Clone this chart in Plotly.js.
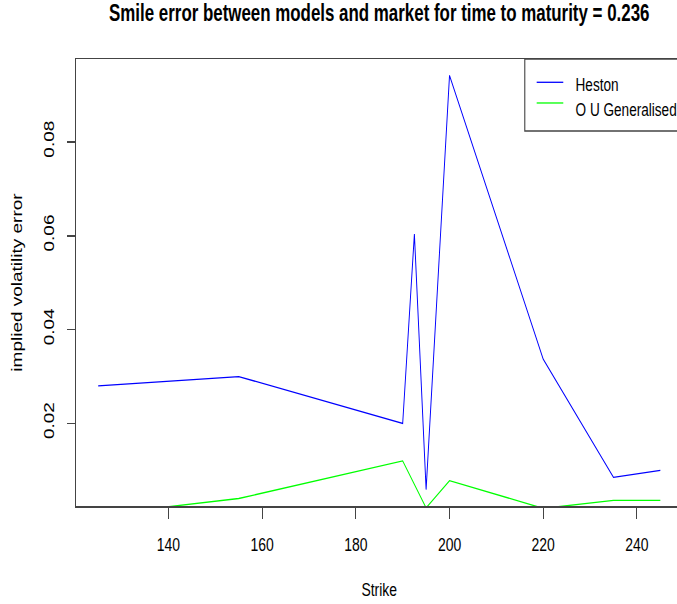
<!DOCTYPE html>
<html>
<head>
<meta charset="utf-8">
<script src="https://cdn.plot.ly/plotly-3.0.1.min.js"></script>
<style>
html, body { margin: 0; padding: 0; width: 677px; height: 604px; overflow: hidden; background: #fff; }
#wrap { width: 940px; height: 604px; transform: scaleX(0.735); transform-origin: 0 0; }
</style>
</head>
<body>
<div id="wrap"><div id="chart"></div></div>
<script>
// Data
var strike = [125, 155, 190, 192.5, 195, 200, 220, 235, 245];
var heston = [0.0280, 0.0300, 0.0200, 0.0604, 0.0059, 0.0942, 0.0337, 0.0085, 0.0100];
var ouGeneralised = [0.0005, 0.0040, 0.0120, 0.0070, 0.0020, 0.0078, 0.0019, 0.0036, 0.0036];
var seriesNames = ["Heston", "O U Generalised"];
var seriesColors = ["#0000ff", "#00ff00"];
var xTicks = [140, 160, 180, 200, 220, 240];
var yTicks = [0.02, 0.04, 0.06, 0.08];

var FONT = "'Liberation Sans', Arial, Helvetica, sans-serif";
var AXC = "#444";

var traces = [
  { x: strike, y: heston, type: "scatter", mode: "lines", name: seriesNames[0],
    line: { color: seriesColors[0], width: 1.3 }, showlegend: false },
  { x: strike, y: ouGeneralised, type: "scatter", mode: "lines", name: seriesNames[1],
    line: { color: seriesColors[1], width: 1.3 }, showlegend: false }
];

// legend drawn as a box like R's legend()
var legX0 = 0.7397, legY0 = 0.839;
var lineX0 = 0.7593, lineX1 = 0.8031, textX = 0.8208;
var lineY = [0.9479, 0.9016];
var textY = [0.9423, 0.8866];

var shapes = [
  { type: "rect", xref: "paper", yref: "paper", x0: legX0, x1: 1.05, y0: legY0, y1: 1,
    line: { color: AXC, width: 1.5 }, fillcolor: "rgba(0,0,0,0)" }
];
var annotations = [];
for (var i = 0; i < seriesNames.length; i++) {
  shapes.push({ type: "line", xref: "paper", yref: "paper", x0: lineX0, x1: lineX1,
    y0: lineY[i], y1: lineY[i], line: { color: seriesColors[i], width: 1.3 } });
  annotations.push({ xref: "paper", yref: "paper", x: textX, y: textY[i], xanchor: "left",
    yanchor: "middle", text: seriesNames[i], showarrow: false,
    font: { family: FONT, size: 18.5, color: "#000" } });
}

var layout = {
  width: 940, height: 604,
  margin: { l: 103, r: 11, t: 59, b: 98, pad: 0 },
  paper_bgcolor: "#fff", plot_bgcolor: "#fff",
  font: { family: FONT, size: 19, color: "#000" },
  title: { text: "<b>Smile error between models and market for time to maturity = 0.236</b>",
    font: { family: FONT, size: 23, color: "#000" },
    xref: "paper", x: 0.5, xanchor: "center", yref: "container", y: 0.9785, yanchor: "middle" },
  showlegend: false,
  xaxis: {
    range: [120.2, 249.8], tickmode: "array", tickvals: xTicks, ticktext: xTicks.map(String),
    showgrid: false, zeroline: false, showline: true, mirror: true, linecolor: AXC, linewidth: 1.5,
    ticks: "outside", ticklen: 11, tickwidth: 1.5, tickcolor: AXC,
    tickfont: { family: FONT, size: 19, color: "#000" }, ticklabelstandoff: 10,
    title: { text: "Strike", font: { family: FONT, size: 19, color: "#000" }, standoff: 28 },
    automargin: false, fixedrange: true
  },
  yaxis: {
    range: [0.0024, 0.0977], tickmode: "array", tickvals: yTicks, ticktext: yTicks.map(function(v){return v.toFixed(2);}),
    showgrid: false, zeroline: false, showline: true, mirror: true, linecolor: AXC, linewidth: 1.5,
    ticks: "outside", ticklen: 11, tickwidth: 1.5, tickcolor: AXC, tickangle: -90,
    tickfont: { family: FONT, size: 19, color: "#000" }, ticklabelstandoff: 10,
    title: { text: "implied volatility error", font: { family: FONT, size: 19, color: "#000" }, standoff: 20 },
    automargin: false, fixedrange: true
  },
  shapes: shapes,
  annotations: annotations
};

Plotly.newPlot("chart", traces, layout, { displayModeBar: false, staticPlot: true });
</script>
</body>
</html>
